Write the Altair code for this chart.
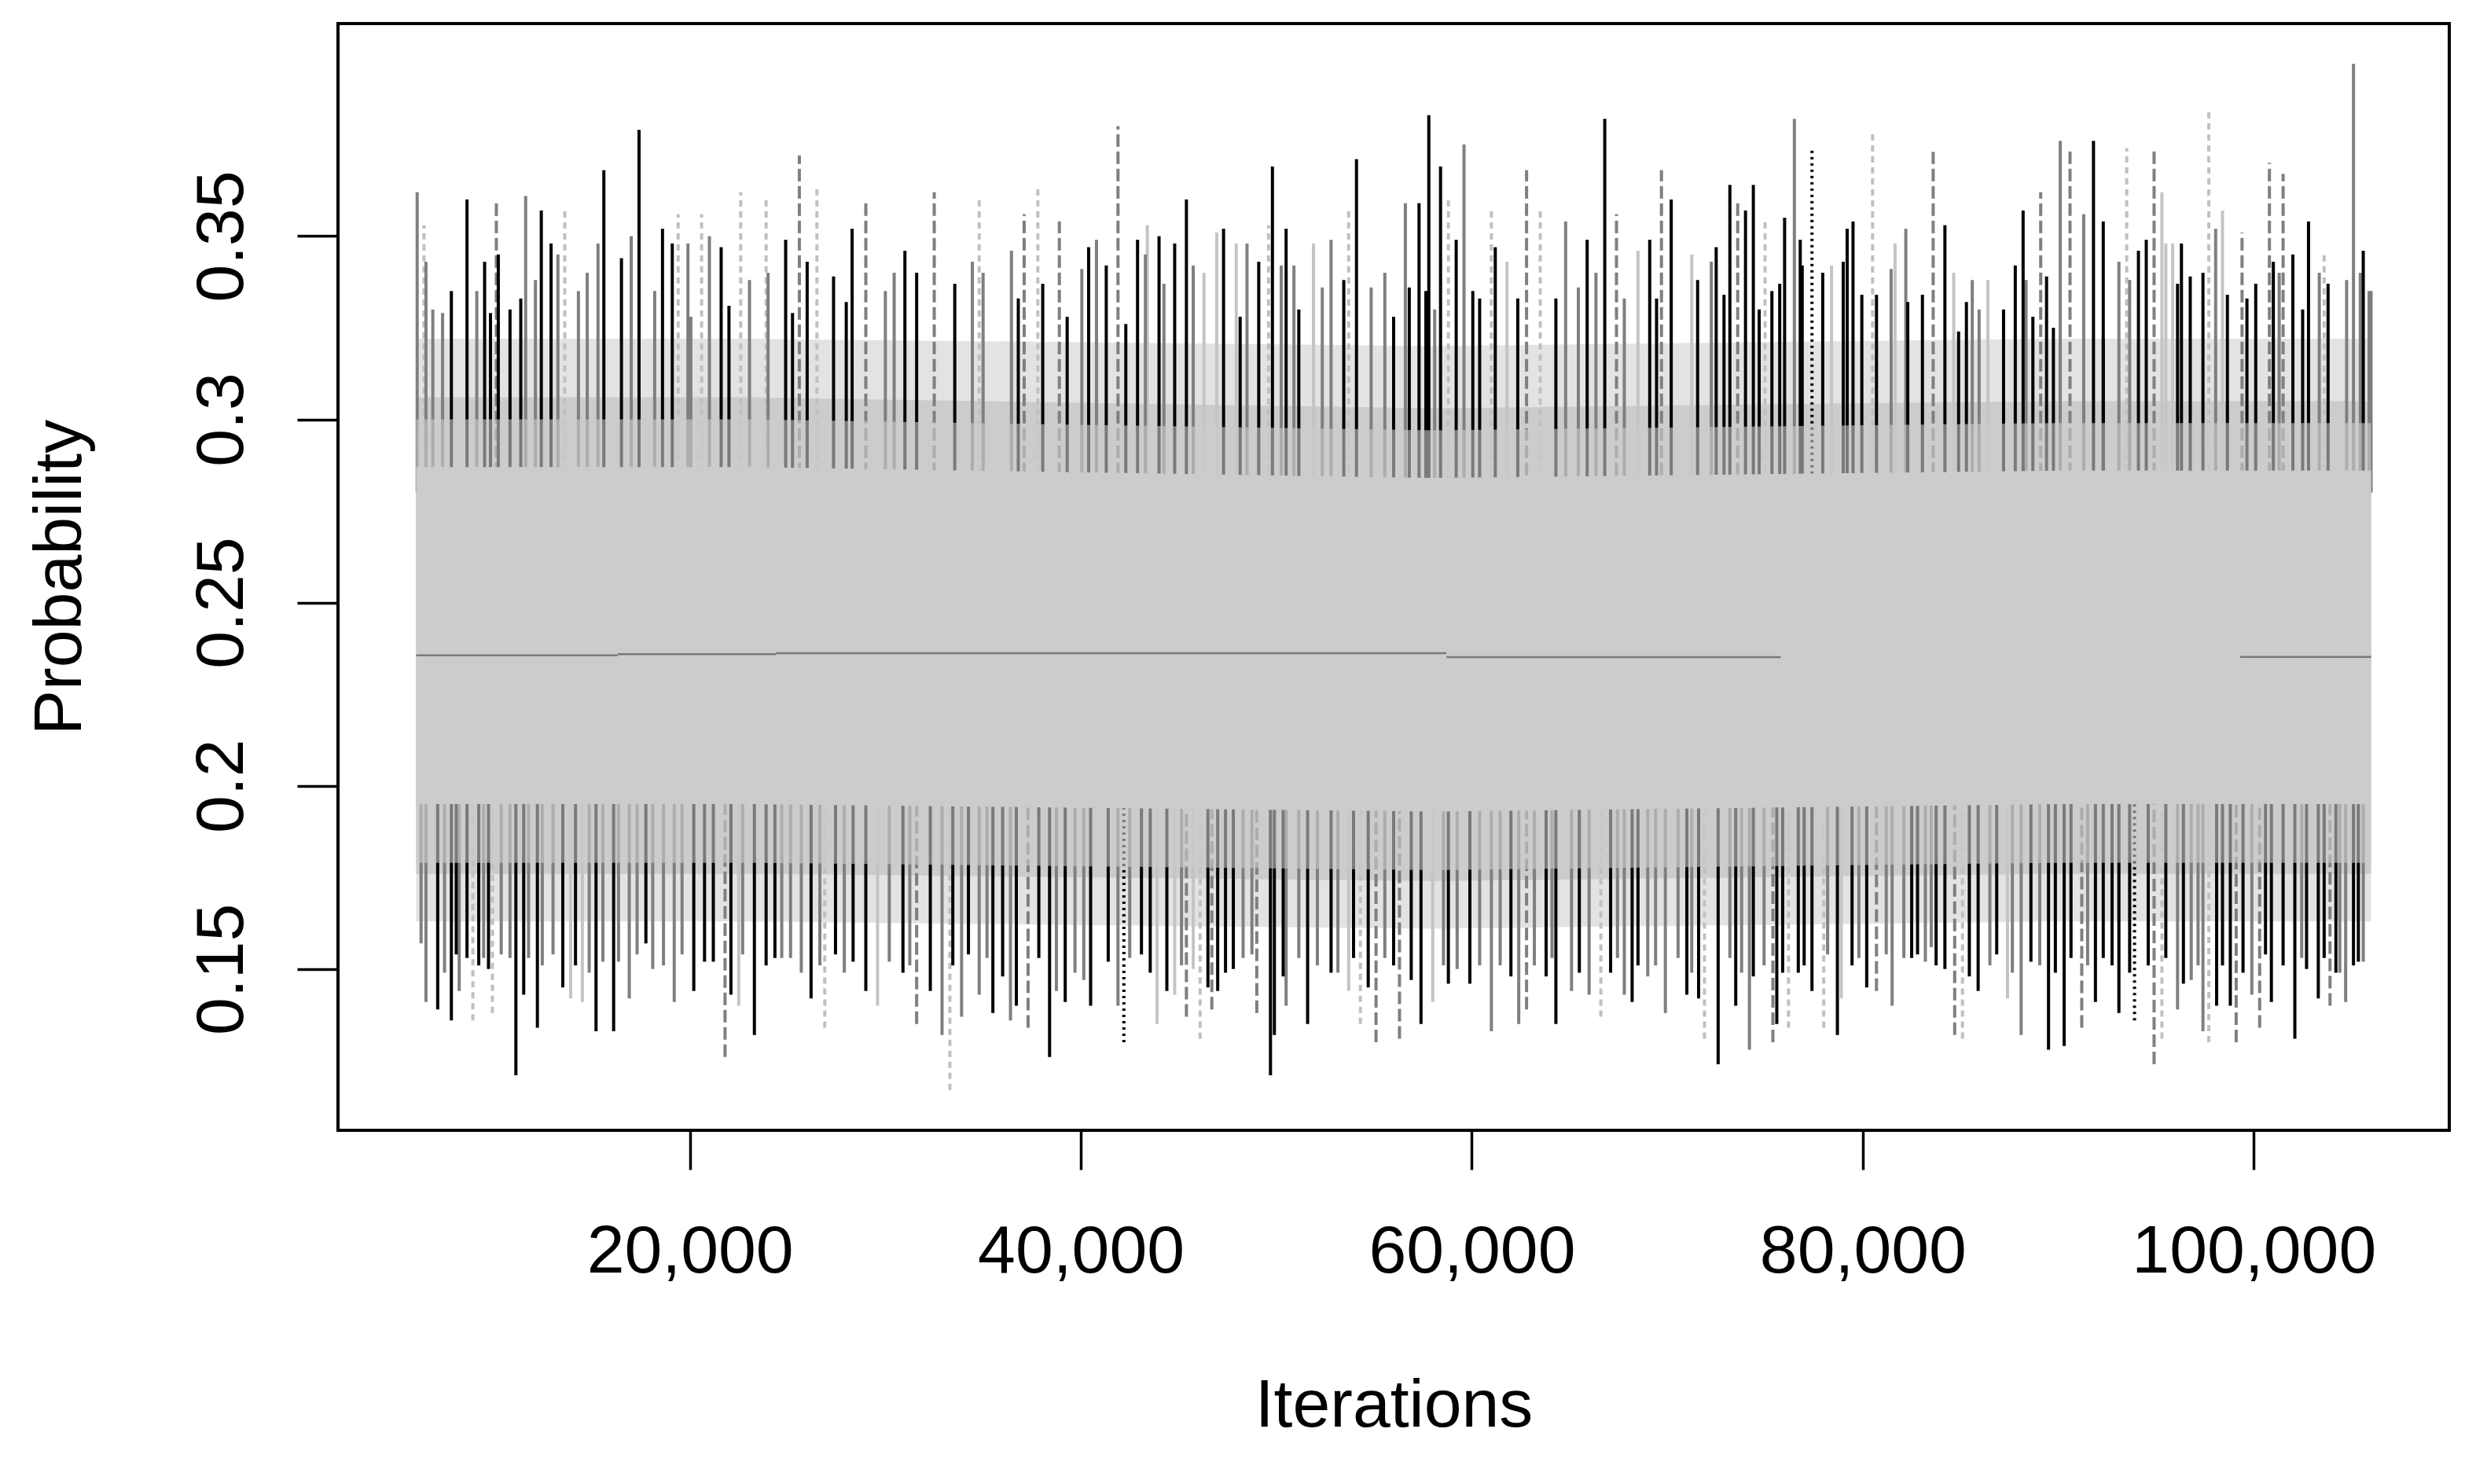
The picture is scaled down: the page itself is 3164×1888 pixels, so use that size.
import altair as alt
import pandas as pd

# large upward excursions of the chains: iteration, peak probability, chain style
top_iter = [6050, 6400, 6500, 7800, 8600, 9500, 10100, 10200, 11600, 12400,
            12900, 13600, 15600, 17000, 17400, 18600, 19100, 19400, 19900, 20600,
            21600, 22600, 23900, 24900, 25600, 26000, 26500, 28300, 29000, 31000,
            32500, 34800, 37100, 37800, 38900, 40400, 40800, 41300, 41900, 42900,
            43400, 44000, 44800, 45400, 47300, 48500, 49600, 49800, 50500, 51900,
            52800, 53700, 54100, 56600, 57300, 57800, 58400, 58800, 59200, 59600,
            61000, 61200, 62800, 63500, 64800, 65900, 66800, 67400, 69100, 69700,
            70200, 72500, 73200, 73600, 74000, 74400, 75000, 76000, 76500, 76800,
            77400, 78400, 79000, 79200, 79500, 80500, 80700, 82200, 83600, 84200,
            85600, 86400, 87800, 88200, 89100, 90100, 90600, 91300, 91800, 92300,
            93500, 94100, 94500, 94900, 95300, 96300, 97400, 97700, 98400, 99400,
            100100, 100800, 101500, 102000, 102800, 103600, 103800, 105100, 105600, 105900]
top_peak = [0.362, 0.353, 0.343, 0.335, 0.360, 0.343, 0.359, 0.345, 0.361, 0.357,
            0.348, 0.358, 0.368, 0.350, 0.379, 0.352, 0.348, 0.356, 0.348, 0.356,
            0.347, 0.362, 0.361, 0.349, 0.372, 0.343, 0.363, 0.352, 0.359, 0.346,
            0.362, 0.360, 0.356, 0.363, 0.354, 0.347, 0.349, 0.342, 0.380, 0.349,
            0.353, 0.350, 0.348, 0.360, 0.352, 0.348, 0.353, 0.369, 0.352, 0.348,
            0.349, 0.357, 0.371, 0.359, 0.359, 0.383, 0.369, 0.360, 0.349, 0.375,
            0.357, 0.347, 0.368, 0.357, 0.354, 0.349, 0.382, 0.356, 0.349, 0.368,
            0.360, 0.347, 0.364, 0.359, 0.357, 0.364, 0.355, 0.355, 0.382, 0.349,
            0.374, 0.342, 0.343, 0.352, 0.354, 0.378, 0.334, 0.352, 0.373, 0.353,
            0.338, 0.338, 0.342, 0.357, 0.362, 0.376, 0.374, 0.356, 0.376, 0.354,
            0.374, 0.346, 0.349, 0.374, 0.362, 0.348, 0.340, 0.385, 0.357, 0.351,
            0.337, 0.370, 0.367, 0.345, 0.354, 0.345, 0.337, 0.397, 0.346, 0.335]
top_style = ["g", "ld", "g", "k", "k", "k", "gd", "k", "g", "k",
             "k", "ld", "k", "g", "k", "k", "k", "ld", "g", "ld",
             "k", "ld", "ld", "k", "gd", "k", "ld", "k", "gd", "k",
             "gd", "ld", "gd", "ld", "gd", "k", "g", "k", "gd", "k",
             "l", "k", "k", "k", "k", "g", "ld", "k", "k", "l",
             "g", "ld", "k", "g", "k", "k", "k", "ld", "k", "g",
             "ld", "k", "gd", "ld", "g", "k", "k", "gd", "k", "gd",
             "k", "k", "k", "gd", "k", "k", "ld", "k", "g", "k",
             "kd", "l", "k", "k", "k", "ld", "k", "g", "gd", "k",
             "g", "l", "k", "k", "gd", "g", "gd", "g", "k", "k",
             "ld", "k", "k", "gd", "l", "k", "k", "ld", "l", "gd",
             "k", "gd", "gd", "k", "k", "ld", "k", "g", "k", "g"]

# smaller upward excursions inside the ragged upper edge
minor_top_iter = [6850, 7350, 9100, 9800, 10800, 11350, 12100, 13250, 14300, 14750,
                  15300, 16500, 18200, 20050, 21000, 22000, 23050, 24000, 25250, 27350,
                  28000, 30000, 30450, 31600, 33550, 34450, 35000, 36450, 36800, 38050,
                  39300, 40050, 42300, 43300, 44250, 45750, 46300, 46950, 47950, 48150,
                  49100, 50250, 50900, 51150, 52350, 53450, 54850, 55550, 56000, 56800,
                  57650, 58100, 60050, 60400, 61800, 62350, 64300, 65450, 66350, 67800,
                  68500, 69450, 71250, 71550, 72250, 72900, 74700, 75350, 75750, 76900,
                  77950, 79950, 81450, 81650, 82300, 83050, 84650, 84900, 85300, 85950,
                  87200, 88350, 88700, 89400, 89750, 92300, 93100, 93650, 95500, 95850,
                  96100, 96750, 98050, 98650, 99650, 101000, 101300, 102500, 103350, 104750,
                  105450, 106000]
minor_top_peak = [0.330, 0.329, 0.335, 0.329, 0.330, 0.333, 0.338, 0.345, 0.335, 0.340,
                  0.348, 0.344, 0.335, 0.328, 0.350, 0.331, 0.338, 0.340, 0.329, 0.339,
                  0.332, 0.335, 0.340, 0.340, 0.337, 0.343, 0.340, 0.346, 0.333, 0.337,
                  0.328, 0.341, 0.326, 0.345, 0.337, 0.342, 0.340, 0.351, 0.348, 0.328,
                  0.343, 0.342, 0.342, 0.330, 0.336, 0.338, 0.336, 0.340, 0.328, 0.336,
                  0.335, 0.330, 0.335, 0.333, 0.343, 0.333, 0.333, 0.336, 0.340, 0.333,
                  0.346, 0.333, 0.345, 0.338, 0.343, 0.334, 0.330, 0.335, 0.337, 0.342,
                  0.340, 0.334, 0.341, 0.348, 0.332, 0.334, 0.340, 0.324, 0.332, 0.330,
                  0.330, 0.338, 0.328, 0.339, 0.325, 0.322, 0.343, 0.338, 0.348, 0.348,
                  0.337, 0.339, 0.352, 0.334, 0.333, 0.343, 0.340, 0.330, 0.340, 0.338,
                  0.340, 0.335]
minor_top_style = ["g", "g", "g", "k", "k", "k", "g", "g", "g", "g",
                   "g", "k", "g", "g", "g", "k", "g", "g", "k", "k",
                   "k", "g", "g", "k", "k", "g", "g", "g", "k", "k",
                   "k", "g", "k", "g", "g", "g", "l", "l", "l", "k",
                   "k", "g", "g", "k", "g", "k", "g", "g", "k", "k",
                   "k", "g", "k", "k", "l", "k", "k", "g", "g", "g",
                   "l", "k", "l", "k", "g", "k", "k", "k", "k", "k",
                   "k", "k", "g", "l", "k", "k", "l", "k", "k", "g",
                   "k", "g", "k", "k", "k", "k", "g", "g", "l", "l",
                   "k", "k", "g", "k", "k", "k", "g", "k", "g", "g",
                   "g", "g"]

# large downward excursions: iteration, trough probability, chain style
bottom_iter = [6500, 7100, 7800, 8200, 8600, 8900, 9200, 9700, 9900, 11100,
               11500, 12200, 13500, 13900, 14500, 15200, 16100, 16900, 18100, 19200,
               20200, 21200, 21800, 22100, 22500, 23300, 23900, 24700, 25700, 26200,
               26900, 27900, 29000, 29600, 30900, 31600, 32300, 32900, 33300, 33900,
               34800, 35500, 36400, 36700, 37300, 38400, 39200, 40500, 41400, 41900,
               42200, 43100, 43900, 44400, 44800, 45400, 46100, 46500, 46700, 47000,
               47400, 47800, 49000, 49700, 49900, 50500, 51600, 52800, 53700, 54300,
               54700, 55100, 56300, 56900, 57400, 58000, 58800, 59900, 61000, 62000,
               62400, 62800, 63800, 64300, 65100, 66000, 66600, 67800, 68200, 69000,
               69900, 71000, 71600, 71900, 72600, 73500, 74200, 74400, 75400, 75600,
               76200, 76700, 77000, 77400, 78000, 78700, 78900, 80200, 80700, 81500,
               82500, 83200, 84200, 84700, 85100, 85900, 87400, 88100, 88600, 89500,
               90300, 91200, 91900, 93100, 93900, 94900, 95300, 96100, 96400, 97400,
               97700, 98100, 98800, 99100, 99900, 100300, 100900, 102100, 102700, 103300,
               103900, 104200, 104700, 105100, 105600]
bottom_trough = [0.141, 0.139, 0.136, 0.144, 0.153, 0.136, 0.151, 0.150, 0.138, 0.121,
                 0.143, 0.134, 0.145, 0.142, 0.141, 0.133, 0.133, 0.142, 0.150, 0.141,
                 0.144, 0.152, 0.126, 0.143, 0.140, 0.132, 0.151, 0.153, 0.149, 0.142,
                 0.134, 0.149, 0.144, 0.140, 0.149, 0.135, 0.144, 0.132, 0.117, 0.137,
                 0.143, 0.138, 0.136, 0.140, 0.134, 0.126, 0.141, 0.140, 0.152, 0.140,
                 0.130, 0.154, 0.135, 0.144, 0.143, 0.137, 0.131, 0.145, 0.139, 0.144,
                 0.149, 0.150, 0.138, 0.121, 0.132, 0.140, 0.135, 0.149, 0.144, 0.135,
                 0.145, 0.130, 0.131, 0.147, 0.135, 0.141, 0.146, 0.146, 0.133, 0.148,
                 0.135, 0.139, 0.148, 0.135, 0.144, 0.143, 0.137, 0.143, 0.141, 0.148,
                 0.138, 0.143, 0.142, 0.131, 0.124, 0.140, 0.128, 0.148, 0.130, 0.135,
                 0.134, 0.149, 0.151, 0.144, 0.134, 0.132, 0.142, 0.145, 0.144, 0.140,
                 0.153, 0.152, 0.150, 0.132, 0.131, 0.144, 0.142, 0.132, 0.152, 0.128,
                 0.129, 0.134, 0.141, 0.138, 0.136, 0.124, 0.131, 0.139, 0.146, 0.133,
                 0.130, 0.140, 0.140, 0.130, 0.143, 0.134, 0.141, 0.131, 0.150, 0.142,
                 0.140, 0.149, 0.141, 0.151, 0.152]
bottom_style = ["g", "k", "k", "g", "k", "ld", "k", "k", "ld", "k",
                "k", "k", "k", "l", "l", "k", "k", "g", "g", "g",
                "k", "k", "gd", "k", "l", "k", "k", "g", "g", "k",
                "ld", "g", "k", "l", "k", "gd", "k", "g", "ld", "g",
                "g", "k", "g", "k", "gd", "k", "k", "k", "k", "g",
                "kd", "k", "l", "k", "l", "gd", "ld", "k", "gd", "k",
                "k", "k", "gd", "k", "k", "g", "k", "k", "l", "ld",
                "k", "gd", "gd", "k", "k", "l", "k", "k", "g", "k",
                "g", "gd", "k", "k", "g", "g", "ld", "g", "k", "g",
                "g", "k", "k", "ld", "k", "k", "g", "k", "gd", "k",
                "ld", "k", "k", "k", "ld", "k", "l", "k", "gd", "g",
                "k", "g", "k", "gd", "ld", "k", "l", "g", "k", "k",
                "k", "gd", "k", "k", "kd", "gd", "ld", "g", "k", "g",
                "ld", "k", "k", "gd", "g", "gd", "k", "k", "k", "k",
                "gd", "k", "g", "k", "g"]

# smaller downward excursions inside the ragged lower edge
minor_bottom_iter = [6250, 7450, 8050, 9450, 10350, 10800, 11750, 12450, 13000, 14150,
                     14850, 15550, 16350, 17300, 17750, 18650, 19600, 20750, 22700, 24350,
                     25150, 26650, 27450, 28350, 30200, 31250, 33450, 34250, 35200, 36000,
                     37850, 38750, 39700, 40150, 42500, 43550, 45150, 45750, 48300, 48750,
                     50350, 51150, 52100, 53150, 53950, 55550, 56000, 58550, 59250, 60400,
                     61450, 63200, 64100, 65500, 67100, 67450, 68500, 69400, 70550, 71250,
                     73200, 73800, 74950, 75900, 78200, 79450, 79800, 81200, 82100, 82800,
                     83500, 83750, 85450, 86500, 86850, 87650, 89050, 89850, 90650, 91500,
                     92300, 92750, 93650, 94600, 95500, 96800, 97150, 98400, 99450, 100600,
                     101500, 102450, 103600, 104400, 105350]
minor_bottom_trough = [0.157, 0.149, 0.154, 0.153, 0.154, 0.153, 0.153, 0.151, 0.154, 0.151,
                       0.149, 0.152, 0.152, 0.154, 0.157, 0.151, 0.154, 0.152, 0.154, 0.153,
                       0.153, 0.151, 0.154, 0.152, 0.152, 0.151, 0.151, 0.154, 0.153, 0.148,
                       0.153, 0.144, 0.149, 0.147, 0.153, 0.149, 0.151, 0.150, 0.153, 0.154,
                       0.148, 0.153, 0.151, 0.149, 0.153, 0.153, 0.151, 0.151, 0.150, 0.151,
                       0.151, 0.151, 0.153, 0.149, 0.149, 0.153, 0.151, 0.151, 0.153, 0.149,
                       0.153, 0.149, 0.151, 0.149, 0.154, 0.151, 0.153, 0.154, 0.153, 0.154,
                       0.156, 0.151, 0.148, 0.151, 0.154, 0.149, 0.151, 0.149, 0.153, 0.151,
                       0.153, 0.151, 0.149, 0.151, 0.153, 0.147, 0.151, 0.151, 0.149, 0.154,
                       0.151, 0.153, 0.153, 0.149, 0.152]
minor_bottom_style = ["g", "g", "k", "g", "g", "g", "g", "g", "g", "k",
                      "g", "g", "g", "g", "k", "g", "g", "k", "g", "k",
                      "g", "g", "k", "k", "g", "g", "k", "k", "g", "k",
                      "k", "g", "g", "g", "g", "k", "g", "l", "g", "g",
                      "k", "g", "g", "g", "k", "g", "k", "g", "g", "g",
                      "g", "g", "g", "k", "k", "g", "k", "g", "g", "g",
                      "g", "g", "g", "k", "g", "k", "g", "g", "g", "k",
                      "g", "k", "k", "g", "k", "g", "g", "k", "k", "g",
                      "k", "k", "k", "k", "k", "g", "g", "k", "k", "k",
                      "k", "g", "k", "g", "k"]

# the dense light grey body of the traces and its ragged edges
band_iter = [6000, 23000, 58000, 90000, 106000]
core_low = [0.195, 0.195, 0.193, 0.195, 0.195]
core_high = [0.287, 0.287, 0.284, 0.286, 0.286]
veil_low = [0.179, 0.179, 0.177, 0.179, 0.179]
veil_high = [0.300, 0.300, 0.297, 0.299, 0.299]
edge_low = [0.176, 0.176, 0.174, 0.176, 0.176]
edge_high = [0.306, 0.306, 0.303, 0.305, 0.305]
fringe_low = [0.163, 0.163, 0.161, 0.163, 0.163]
fringe_high = [0.322, 0.322, 0.320, 0.322, 0.322]

# short dark horizontal pieces through the middle of the band
mean_start = [6000, 16300, 24400, 58700, 99300]
mean_end = [16300, 24400, 58700, 75800, 106000]
mean_value = [0.2356, 0.2359, 0.2362, 0.2351, 0.2352]

x_ticks = [20000, 40000, 60000, 80000, 100000]
y_ticks = [0.15, 0.2, 0.25, 0.3, 0.35]

styles = ["l", "ld", "g", "gd", "k", "kd"]
style_colors = ["#c4c4c4", "#c0c0c0", "#7f7f7f", "#7f7f7f", "#000000", "#000000"]
style_dashes = [[1, 0], [8, 6], [1, 0], [16, 6], [1, 0], [3, 5]]
draw_rank = {"l": 0, "ld": 0, "g": 1, "gd": 1, "k": 2, "kd": 2}

FONT = "Liberation Sans"
GREY = "#cccccc"

up = pd.DataFrame({"it": top_iter + minor_top_iter, "hi": top_peak + minor_top_peak,
                   "style": top_style + minor_top_style})
up["lo"] = 0.280
down = pd.DataFrame({"it": bottom_iter + minor_bottom_iter,
                     "lo": bottom_trough + minor_bottom_trough,
                     "style": bottom_style + minor_bottom_style})
down["hi"] = 0.200
spikes = pd.concat([up, down], ignore_index=True)
spikes["rank"] = spikes["style"].map(draw_rank)
spikes = spikes.sort_values("rank", kind="stable")

band = pd.DataFrame({"it": band_iter, "core_lo": core_low, "core_hi": core_high,
                     "veil_lo": veil_low, "veil_hi": veil_high,
                     "edge_lo": edge_low, "edge_hi": edge_high,
                     "fr_lo": fringe_low, "fr_hi": fringe_high})
means = pd.DataFrame({"start": mean_start, "end": mean_end, "value": mean_value})

x_scale = alt.Scale(domain=[2000, 110000], nice=False, zero=False)
y_scale = alt.Scale(domain=[0.106, 0.408], nice=False, zero=False)

x_axis = alt.Axis(
    values=x_ticks, format=",d", title="Iterations", grid=False, domain=False,
    tickSize=50, tickWidth=3.5, tickColor="black",
    labelFont=FONT, labelFontSize=86, labelColor="black", labelPadding=130,
    labelBaseline="alphabetic", labelFlush=False, labelOverlap=False, labelLimit=0,
    titleFont=FONT, titleFontSize=86, titleFontWeight="normal", titleColor="black",
    titleX=1343, titleY=376, titleAlign="center", titleBaseline="alphabetic",
    titleLimit=0,
)
y_axis = alt.Axis(
    values=y_ticks, format="~g", title="Probability", grid=False, domain=False,
    tickSize=52, tickWidth=3.5, tickColor="black",
    labelFont=FONT, labelFontSize=86, labelColor="black", labelPadding=70,
    labelAngle=270, labelAlign="center", labelBaseline="alphabetic",
    labelFlush=False, labelOverlap=False, labelLimit=0,
    titleFont=FONT, titleFontSize=86, titleFontWeight="normal", titleColor="black",
    titleAngle=270, titleX=-328, titleY=704, titleAlign="center",
    titleBaseline="alphabetic", titleLimit=0,
)


def band_layer(lo, hi, opacity=1.0):
    return alt.Chart(band).mark_area(color=GREY, opacity=opacity).encode(
        x=alt.X("it:Q", scale=x_scale, axis=x_axis),
        y=alt.Y(f"{lo}:Q", scale=y_scale, axis=y_axis),
        y2=f"{hi}:Q",
    )


fringe = band_layer("fr_lo", "fr_hi", 0.55)
edge = band_layer("edge_lo", "edge_hi")

traces = alt.Chart(spikes).mark_rule(strokeWidth=4).encode(
    x=alt.X("it:Q", scale=x_scale, axis=x_axis),
    y=alt.Y("lo:Q", scale=y_scale, axis=y_axis),
    y2="hi:Q",
    color=alt.Color("style:N", scale=alt.Scale(domain=styles, range=style_colors),
                    legend=None),
    strokeDash=alt.StrokeDash("style:N",
                              scale=alt.Scale(domain=styles, range=style_dashes),
                              legend=None),
)

# a half-opaque veil lets the inner ends of the excursions fade into the band
veil = band_layer("veil_lo", "veil_hi", 0.6)
core = band_layer("core_lo", "core_hi")

mid = alt.Chart(means).mark_rule(color="#7a7a7a", strokeWidth=2.5).encode(
    x=alt.X("start:Q", scale=x_scale, axis=x_axis),
    x2="end:Q",
    y=alt.Y("value:Q", scale=y_scale, axis=y_axis),
)

chart = alt.layer(fringe, edge, traces, veil, core, mid).properties(
    width=2686,
    height=1408,
    background="white",
    autosize=alt.AutoSizeParams(type="none"),
    padding={"left": 422, "top": 22, "right": 40, "bottom": 440},
).configure_view(stroke="black", strokeWidth=4)

chart.save("out.html", embed_options={"renderer": "svg", "actions": False})
